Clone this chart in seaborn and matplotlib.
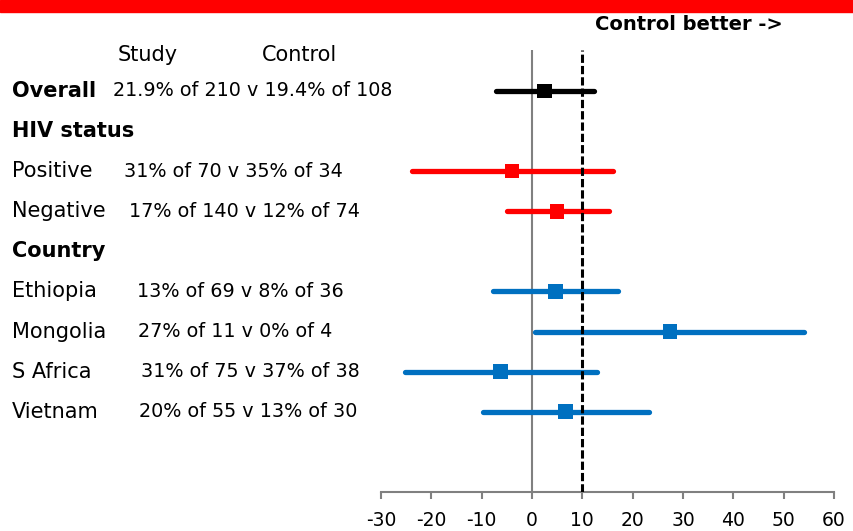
import numpy as np
import pandas as pd
import matplotlib
matplotlib.use("Agg")
import matplotlib.pyplot as plt
import matplotlib.transforms as mtransforms
import seaborn as sns

nan = np.nan
labels = ["Overall", "HIV status", "Positive", "Negative", "Country",
          "Ethiopia", "Mongolia", "S Africa", "Vietnam"]
stats = ["21.9% of 210 v 19.4% of 108", "", "31% of 70 v 35% of 34",
         "17% of 140 v 12% of 74", "", "13% of 69 v 8% of 36",
         "27% of 11 v 0% of 4", "31% of 75 v 37% of 38", "20% of 55 v 13% of 30"]
group = ["Overall", "", "HIV status", "HIV status", "", "Country",
         "Country", "Country", "Country"]
estimate = [2.5, nan, -4.0, 5.0, nan, 4.7, 27.4, -6.3, 6.7]
lower = [-7.2, nan, -23.8, -5.0, nan, -7.7, 0.6, -25.2, -9.8]
upper = [12.3, nan, 16.0, 15.2, nan, 17.1, 54.1, 12.9, 23.3]
xticks = [-30, -20, -10, 0, 10, 20, 30, 40, 50, 60]
colors = {"Overall": "black", "HIV status": "#FF0000", "Country": "#0070C0"}

df = pd.DataFrame({"label": labels, "stats": stats, "group": group,
                   "estimate": estimate, "lower": lower, "upper": upper})
df["row"] = df.index

sns.set_style("white")
plt.rcParams["font.family"] = ["DejaVu Sans"]
plt.rcParams["text.color"] = "black"
plt.rcParams["xtick.color"] = "black"

fig = plt.figure(figsize=(8.54, 5.31), dpi=100)
ax = fig.add_axes([381 / 854, 1 - 492 / 531, 453 / 854, 442 / 531])

# red band across the top
fig.patches.append(plt.Rectangle((0, 1 - 12 / 531), 1, 12 / 531, transform=fig.transFigure,
                                 color="#FF0000", zorder=0))

ax.axvline(0, color="#808080", lw=1.5, zorder=1)
ax.axvline(10, color="black", lw=2.2, ls=(0, (2.7, 1.0)), zorder=4)

est = df.dropna(subset=["estimate"])
for g, sub in est.groupby("group"):
    lc = ax.hlines(sub["row"], sub["lower"], sub["upper"], color=colors[g], lw=3.8, zorder=2)
    lc.set_capstyle("round")
sns.scatterplot(data=est, x="estimate", y="row", hue="group", palette=colors,
                marker="s", s=110, linewidth=0, legend=False, ax=ax, zorder=3)

ax.set_xlim(-30, 60)
ax.set_ylim(10, -1.02)
ax.set_xticks(xticks)
ax.set_xticklabels([str(t) for t in xticks], fontsize=13.5)
ax.set_yticks([])
ax.set_xlabel("")
ax.set_ylabel("")
for s in ["top", "right", "left"]:
    ax.spines[s].set_visible(False)
ax.spines["bottom"].set_color("#808080")
ax.spines["bottom"].set_linewidth(1.5)
ax.tick_params(axis="x", direction="out", length=5, width=1.5, color="#808080",
               pad=9, labelcolor="black", bottom=True)

# left hand text
trans = mtransforms.blended_transform_factory(fig.transFigure, ax.transData)
stat_x = [113, 0, 124, 129, 0, 137, 138, 141, 139]
for i, r in df.iterrows():
    bold = r["label"] in ["Overall", "HIV status", "Country"]
    ax.text(12 / 854, r["row"], r["label"], transform=trans, fontsize=15,
            fontweight="bold" if bold else "normal", va="center", ha="left", color="black")
    if r["stats"]:
        ax.text(stat_x[i] / 854, r["row"], r["stats"], transform=trans,
                fontsize=13.8, va="center", ha="left", color="black")

fig.text(118 / 854, 1 - 55 / 531, "Study", fontsize=15, va="center")
fig.text(262 / 854, 1 - 55 / 531, "Control", fontsize=15, va="center")
fig.text(595 / 854, 1 - 25 / 531, "Control better ->", fontsize=14, fontweight="bold",
         va="center")

fig.savefig("out.png", dpi=100)
